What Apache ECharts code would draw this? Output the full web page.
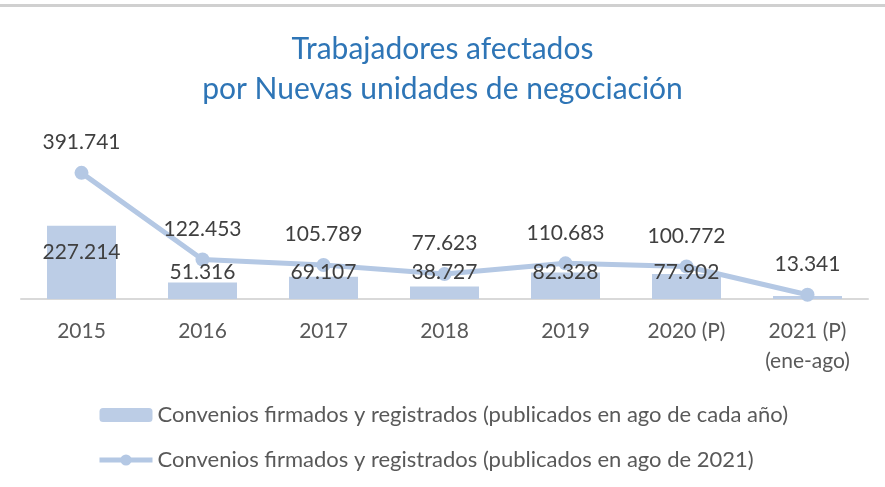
<!DOCTYPE html>
<html>
<head>
<meta charset="utf-8">
<script src="https://cdn.jsdelivr.net/npm/echarts@6/dist/echarts.min.js"></script>
<style>
    html, body { margin: 0; padding: 0; background: #fff; }
    #chart { width: 885px; height: 487px; }
</style>
</head>
<body>
<div id="chart"></div>
<script>
'use strict';
// categorias del eje x
var YEARS = ['2015', '2016', '2017', '2018', '2019', '2020 (P)', '2021 (P)\n(ene-ago)'];
// barras: publicados en ago de cada año
var CADA_ANO = [227214, 51316, 69107, 38727, 82328, 77902, 9300];
// linea: publicados en ago de 2021
var AGO_2021 = [391741, 122453, 105789, 77623, 110683, 100772, 13341];

var NOMBRE_BARRA = 'Convenios firmados y registrados (publicados en ago de cada año)';
var NOMBRE_LINEA = 'Convenios firmados y registrados (publicados en ago de 2021)';

var FUENTE = 'Lato, "Open Sans", sans-serif';
var AZUL_BARRA = '#bccde6';
var AZUL_LINEA = '#b4c8e4';

// formato 391.741
function miles(v) {
    return String(v).replace(/\B(?=(\d{3})+(?!\d))/g, '.');
}

var chart = echarts.init(document.getElementById('chart'));

// etiquetas de barras: la primera mas arriba, la ultima sin etiqueta
var barLabelData = CADA_ANO.map(function (v, i) {
    var item = { value: v };
    if (i === 0) {
        item.label = { distance: 36 };
    }
    if (i === CADA_ANO.length - 1) {
        item.label = { show: false };
    }
    return item;
});

var option = {
    backgroundColor: '#fff',
    textStyle: { fontFamily: FUENTE },
    graphic: [{
        type: 'rect',
        left: 0,
        top: 4,
        shape: { width: 885, height: 3 },
        style: { fill: '#d0d0d0' },
        silent: true
    }],
    title: {
        text: 'Trabajadores afectados\npor Nuevas unidades de negociación',
        left: 'center',
        top: 24,
        textStyle: {
            color: '#2e75b6',
            fontFamily: FUENTE,
            fontWeight: 'normal',
            fontSize: 30,
            lineHeight: 40
        }
    },
    legend: {
        orient: 'vertical',
        left: 92,
        top: 399,
        itemGap: 23,
        itemWidth: 53,
        itemHeight: 14,
        textStyle: { color: '#595959', fontSize: 22, fontFamily: FUENTE },
        data: [
            { name: NOMBRE_BARRA },
            { name: NOMBRE_LINEA, lineStyle: { width: 5 } }
        ]
    },
    grid: {
        left: 21,
        right: 17,
        top: 138,
        bottom: 188
    },
    xAxis: {
        type: 'category',
        data: YEARS,
        axisLine: { lineStyle: { color: '#d9d9d9', width: 2 } },
        axisTick: { show: false },
        axisLabel: {
            color: '#595959',
            fontSize: 21,
            fontFamily: FUENTE,
            margin: 17,
            lineHeight: 30
        }
    },
    yAxis: {
        type: 'value',
        min: 0,
        max: 500000,
        show: false,
        splitLine: { show: false }
    },
    series: [{
        name: NOMBRE_BARRA,
        type: 'bar',
        data: CADA_ANO,
        barWidth: 69,
        itemStyle: { color: AZUL_BARRA }
    }, {
        name: NOMBRE_LINEA,
        type: 'line',
        data: AGO_2021,
        symbol: 'circle',
        symbolSize: 14,
        lineStyle: { color: AZUL_LINEA, width: 5 },
        itemStyle: { color: AZUL_LINEA },
        label: {
            show: true,
            position: 'top',
            distance: 13,
            color: '#404040',
            fontSize: 21,
            fontFamily: FUENTE,
            formatter: function (p) { return miles(p.value); }
        }
    }, {
        // solo las etiquetas de las barras, por encima de la linea
        name: 'etiquetas',
        type: 'bar',
        data: barLabelData,
        barWidth: 69,
        barGap: '-100%',
        z: 5,
        silent: true,
        itemStyle: { color: 'rgba(0,0,0,0)' },
        label: {
            show: true,
            position: 'insideBottom',
            distance: 16,
            color: '#404040',
            fontSize: 21,
            fontFamily: FUENTE,
            formatter: function (p) { return miles(p.value); }
        }
    }]
};

chart.setOption(option);
</script>
</body>
</html>
